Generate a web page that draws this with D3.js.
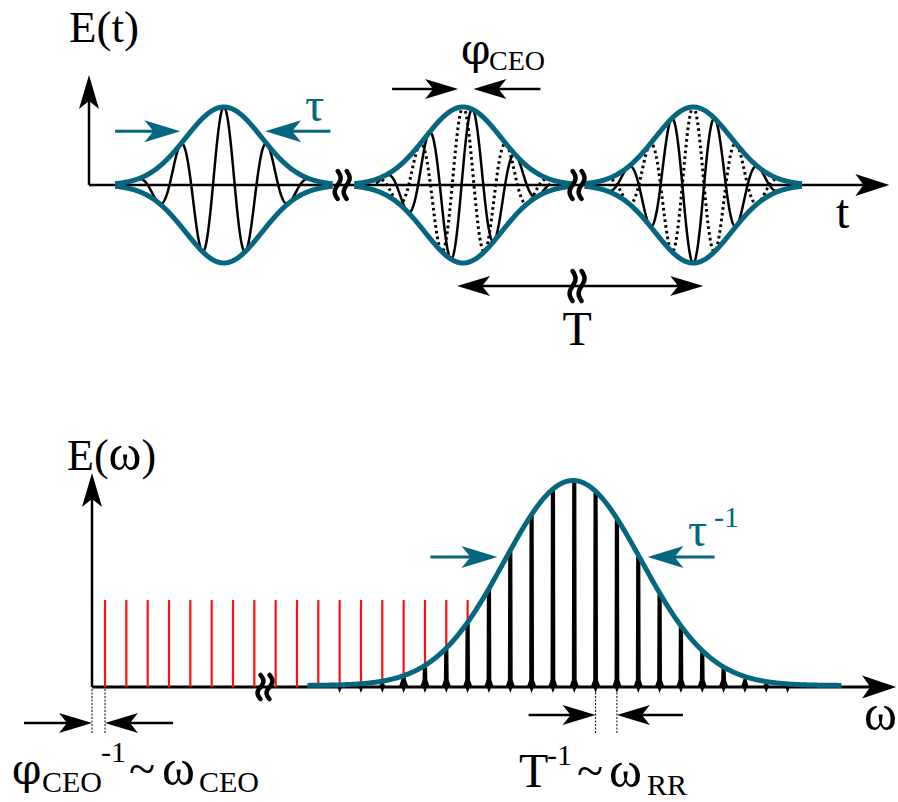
<!DOCTYPE html>
<html>
<head>
<meta charset="utf-8">
<script src="https://cdn.jsdelivr.net/npm/d3@7"></script>
<style>
  html, body { margin: 0; padding: 0; background: #fff; }
  svg text { font-family: "Liberation Serif", "DejaVu Serif", serif; }
  svg text.greek { font-family: "DejaVu Serif", "Liberation Serif", serif; }
</style>
</head>
<body>
<svg id="fig" width="898" height="802"></svg>
<script>
// ---------- time domain (units: optical cycles of the carrier) ----------
const pulseCenters    = [3.10, 8.60, 13.89];     // pulse peaks
const pulsePhases     = [0, 1.35, Math.PI];      // carrier-envelope phase of each pulse (solid carrier)
const referencePhases = [null, 0, 0];            // un-slipped carrier shown dotted
const pulseSigma      = 0.874;                   // Gaussian envelope width
const envelopeSpan    = 2.5;                     // half-span of the drawn envelope
const carrierSpan     = 2.0;                     // half-span of the drawn carrier
const timeBreaks      = [5.82, 11.22];           // axis breaks between pulses
const timeAxisEnd     = 18.4;

// ---------- frequency domain (units: repetition rate ω_RR) ----------
const ceoOffset        = 0.61;                   // ω_CEO
const redModes         = d3.range(0, 18);        // extrapolated comb (red)
const combModes        = d3.range(0, 38);        // real comb lines under the spectrum
const redLevel         = 0.424;
const spectrumCenter   = 22.55;
const spectrumSigma    = 3.22;
const spectrumSpan     = [10.1, 35.15];
const freqBreaks       = [8.11];
const rrModes          = [23, 24];               // pair marked T^-1 ~ ω_RR
const freqAxisEnd      = 37.7;

const teal = "#04677f";
const svg = d3.select("#fig");

// scales
const xt = d3.scaleLinear().domain([0, 1]).range([89, 89 + 43.5]);
const yt = d3.scaleLinear().domain([-1, 1]).range([263, 107]);
const xw = d3.scaleLinear().domain([0, 1]).range([92, 92 + 21.33]);
const yw = d3.scaleLinear().domain([0, 1]).range([687, 482]);

// ---------- helpers ----------
function arrowHead(g, x, y, angle, color, len = 33, half = 10, notch = 25) {
  g.append("path")
    .attr("d", `M0,0 L${-len},${-half} L${-notch},0 L${-len},${half} Z`)
    .attr("transform", `translate(${x},${y}) rotate(${angle})`)
    .attr("fill", color);
}
function arrow(g, x1, y1, x2, y2, color, width = 2.5, opts = {}) {
  const ang = Math.atan2(y2 - y1, x2 - x1) * 180 / Math.PI;
  const back = (opts.notch || 25) - 2;
  const ux = Math.cos(ang * Math.PI / 180), uy = Math.sin(ang * Math.PI / 180);
  g.append("line")
    .attr("x1", opts.both ? x1 + ux * back : x1).attr("y1", opts.both ? y1 + uy * back : y1)
    .attr("x2", x2 - ux * back).attr("y2", y2 - uy * back)
    .attr("stroke", color).attr("stroke-width", width);
  arrowHead(g, x2, y2, ang, color, opts.len, opts.half, opts.notch);
  if (opts.both) arrowHead(g, x1, y1, ang + 180, color, opts.len, opts.half, opts.notch);
}
function breakMark(g, x, y, h = 28) {
  [-4.5, 4.5].forEach(dx => {
    const pts = d3.range(0, 1.0001, 0.05).map(f => [x + dx + 3 * Math.sin(2 * Math.PI * f), y - h / 2 + f * h]);
    g.append("path").attr("d", d3.line().curve(d3.curveBasis)(pts))
      .attr("fill", "none").attr("stroke", "#000").attr("stroke-width", 4.5)
      .attr("stroke-linecap", "round");
  });
}
function label(g, txt, x, y, size, color = "#000", anchor = "start", cls = null) {
  return g.append("text").attr("x", x).attr("y", y).attr("font-size", size)
    .attr("class", cls)
    .attr("fill", color).attr("text-anchor", anchor).text(txt);
}

// =================== upper panel: pulse train E(t) ===================
const gTime = svg.append("g");
const gauss = (t, c, s) => Math.exp(-((t - c) ** 2) / (2 * s * s));

// axes
gTime.append("line").attr("x1", xt(0)).attr("y1", yt(0)).attr("x2", xt(timeAxisEnd) - 20).attr("y2", yt(0))
  .attr("stroke", "#000").attr("stroke-width", 2.5);
arrowHead(gTime, xt(timeAxisEnd), yt(0), 0, "#000", 34, 11, 26);
gTime.append("line").attr("x1", xt(0)).attr("y1", yt(0)).attr("x2", xt(0)).attr("y2", 95)
  .attr("stroke", "#000").attr("stroke-width", 2.5);
arrowHead(gTime, xt(0), 75, -90, "#000", 34, 10, 26);

const lineT = d3.line().x(d => xt(d[0])).y(d => yt(d[1]));

pulseCenters.forEach((c, i) => {
  const ts = d3.range(c - carrierSpan, c + carrierSpan + 1e-9, 0.005);
  if (referencePhases[i] !== null) {
    gTime.append("path")
      .attr("d", lineT(ts.map(t => [t, gauss(t, c, pulseSigma) * Math.cos(2 * Math.PI * (t - c) - referencePhases[i])])))
      .attr("fill", "none").attr("stroke", "#000").attr("stroke-width", 3)
      .attr("stroke-dasharray", "2.6,3.2");
  }
  gTime.append("path")
    .attr("d", lineT(ts.map(t => [t, gauss(t, c, pulseSigma) * Math.cos(2 * Math.PI * (t - c) - pulsePhases[i])])))
    .attr("fill", "none").attr("stroke", "#000").attr("stroke-width", 2.5);

  const te = d3.range(c - envelopeSpan, c + envelopeSpan + 1e-9, 0.01);
  [1, -1].forEach(s => {
    gTime.append("path")
      .attr("d", lineT(te.map(t => [t, s * gauss(t, c, pulseSigma)])))
      .attr("fill", "none").attr("stroke", teal).attr("stroke-width", 5)
      .attr("stroke-linecap", "butt");
  });
});
timeBreaks.forEach(b => breakMark(gTime, xt(b), yt(0), 28));

// τ arrows on the first pulse
const tauLevel = 0.69;
const c0 = pulseCenters[0];
arrow(gTime, xt(c0 - 2.5), yt(tauLevel), xt(c0 - 1.0), yt(tauLevel), teal, 3, { len: 36, half: 11, notch: 27 });
arrow(gTime, xt(c0 + 2.45), yt(tauLevel), xt(c0 + 0.95), yt(tauLevel), teal, 3, { len: 36, half: 11, notch: 27 });
label(gTime, "τ", 305, 121, 48, teal);

// φ_CEO arrows on the second pulse
const c1 = pulseCenters[1];
const refPeak = xt(c1 + referencePhases[1] / (2 * Math.PI));
const solPeak = xt(c1 + pulsePhases[1] / (2 * Math.PI));
arrow(gTime, refPeak - 71, 89, refPeak - 5, 89, "#000", 2.5);
arrow(gTime, solPeak + 68, 89, solPeak + 1, 89, "#000", 2.5);
label(gTime, "φ", 461, 64, 42, "#000", "start", "greek");
label(gTime, "CEO", 489, 70, 28);

// T: pulse spacing
const c2 = pulseCenters[2];
arrow(gTime, xt(c1) - 6, 286, xt(c2) + 10, 286, "#000", 2.5, { both: true });
breakMark(gTime, xt(timeBreaks[1]), 286, 30);
label(gTime, "T", xt(timeBreaks[1]), 345, 48, "#000", "middle");

label(gTime, "E(t)", 69, 42, 45);
label(gTime, "t", 836, 228, 48);

// =================== lower panel: frequency comb E(ω) ===================
const gFreq = svg.append("g");
const spec = w => gauss(w, spectrumCenter, spectrumSigma);

gFreq.append("line").attr("x1", xw(0)).attr("y1", yw(0)).attr("x2", xw(freqAxisEnd) - 20).attr("y2", yw(0))
  .attr("stroke", "#000").attr("stroke-width", 3);
arrowHead(gFreq, xw(freqAxisEnd), yw(0), 0, "#000", 34, 11.5, 26);
gFreq.append("line").attr("x1", xw(0)).attr("y1", yw(0)).attr("x2", xw(0)).attr("y2", 495)
  .attr("stroke", "#000").attr("stroke-width", 2.5);
arrowHead(gFreq, xw(0), 473, -90, "#000", 34, 10, 26);

// extrapolated comb lines down to ω = 0
gFreq.selectAll("line.red").data(redModes).join("line")
  .attr("class", "red")
  .attr("x1", n => xw(n + ceoOffset)).attr("x2", n => xw(n + ceoOffset))
  .attr("y1", yw(redLevel)).attr("y2", yw(0))
  .attr("stroke", "#ff1010").attr("stroke-width", 2.2);

// comb lines weighted by the spectrum
combModes.forEach(n => {
  const w = n + ceoOffset;
  if (w < spectrumSpan[0] - 3 || w > spectrumSpan[1]) return;
  const a = spec(w);
  const x = xw(w), y0 = yw(0), yTop = yw(a);
  const h = y0 - yTop;
  if (h < 0.6) return;
  let d;
  if (h < 9) {
    d = `M${x - 4},${y0} L${x - 1},${yTop} L${x + 1},${yTop} L${x + 4},${y0} Z`;
  } else {
    const f = y0 - 7;
    d = `M${x - 4.8},${y0} L${x - 2.4},${f} L${x - 2.1},${yTop} L${x + 2.1},${yTop} L${x + 2.4},${f} L${x + 4.8},${y0} Z`;
  }
  gFreq.append("path").attr("d", d).attr("fill", "#000");
  gFreq.append("path").attr("d", `M${x - 2.2},${y0} L${x},${y0 + 6} L${x + 2.2},${y0} Z`).attr("fill", "#000");
});

// spectral envelope
const ws = d3.range(spectrumSpan[0], spectrumSpan[1] + 1e-9, 0.02);
gFreq.append("path")
  .attr("d", d3.line().x(w => xw(w)).y(w => yw(spec(w)) - 1.5)(ws))
  .attr("fill", "none").attr("stroke", teal).attr("stroke-width", 5);

freqBreaks.forEach(b => breakMark(gFreq, xw(b), yw(0), 24));

// τ^-1 arrows
const bwLevel = 0.634;
const halfW = spectrumSigma * Math.sqrt(-2 * Math.log(bwLevel));
const yL = yw(bwLevel);
arrow(gFreq, xw(spectrumCenter - halfW) - 77, yL, xw(spectrumCenter - halfW) - 10, yL, teal, 3, { len: 36, half: 11, notch: 27 });
arrow(gFreq, xw(spectrumCenter + halfW) + 76, yL, xw(spectrumCenter + halfW) + 9, yL, teal, 3, { len: 36, half: 11, notch: 27 });
label(gFreq, "τ", 688, 546, 48, teal);
label(gFreq, "-1", 714, 527, 30, teal);

// mode spacing T^-1 ~ ω_RR
const rA = xw(rrModes[0] + ceoOffset), rB = xw(rrModes[1] + ceoOffset);
[rA, rB].forEach(x => gFreq.append("line").attr("x1", x).attr("x2", x).attr("y1", yw(0) + 2).attr("y2", 733)
  .attr("stroke", "#000").attr("stroke-width", 1).attr("stroke-dasharray", "2,1.5"));
arrow(gFreq, rA - 67, 715, rA, 715, "#000", 2.5);
arrow(gFreq, rB + 66, 715, rB, 715, "#000", 2.5);
label(gFreq, "T", 519, 787, 48);
label(gFreq, "-1", 547, 765, 30);
label(gFreq, "~", 577, 787, 48);
label(gFreq, "ω", 609, 787, 50);
label(gFreq, "RR", 647, 795, 30);

// offset ω_CEO
const oA = xw(0), oB = xw(ceoOffset);
[oA, oB].forEach(x => gFreq.append("line").attr("x1", x).attr("x2", x).attr("y1", yw(0) + 2).attr("y2", 733)
  .attr("stroke", "#000").attr("stroke-width", 1).attr("stroke-dasharray", "2,1.5"));
arrow(gFreq, oA - 68, 723, oA, 723, "#000", 2.5);
arrow(gFreq, oB + 68, 723, oB, 723, "#000", 2.5);
label(gFreq, "φ", 12, 784, 42, "#000", "start", "greek");
label(gFreq, "CEO", 42, 792, 30);
label(gFreq, "-1", 101, 762, 30);
label(gFreq, "~", 129, 785, 48);
label(gFreq, "ω", 162, 785, 50);
label(gFreq, "CEO", 199, 792, 30);

// E(ω) axis title with a wider ω
const eW = label(gFreq, "E(", 67, 470, 44);
eW.append("tspan").attr("font-size", 50).text("ω");
eW.append("tspan").text(")");
label(gFreq, "ω", 864, 730, 50);
</script>
</body>
</html>
